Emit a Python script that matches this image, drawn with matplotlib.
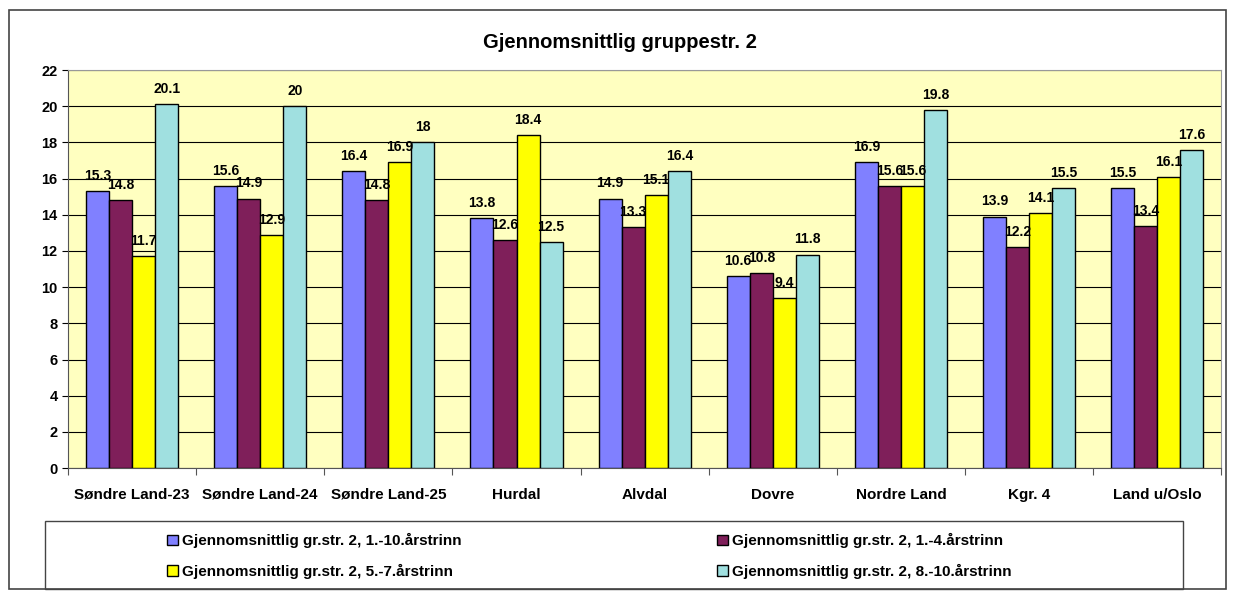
import numpy as np
import matplotlib
matplotlib.use("Agg")
import matplotlib.pyplot as plt
from matplotlib.patches import Rectangle

plt.rcParams['font.family'] = ['Liberation Sans Narrow', 'Liberation Sans', 'DejaVu Sans']
plt.rcParams['font.weight'] = 'bold'

# Data
categories = ["Søndre Land-23", "Søndre Land-24", "Søndre Land-25", "Hurdal", "Alvdal",
              "Dovre", "Nordre Land", "Kgr. 4", "Land u/Oslo"]
series_names = ["Gjennomsnittlig gr.str. 2, 1.-10.årstrinn",
                "Gjennomsnittlig gr.str. 2, 1.-4.årstrinn",
                "Gjennomsnittlig gr.str. 2, 5.-7.årstrinn",
                "Gjennomsnittlig gr.str. 2, 8.-10.årstrinn"]
s_1_10 = [15.3, 15.6, 16.4, 13.8, 14.9, 10.6, 16.9, 13.9, 15.5]
s_1_4 = [14.8, 14.9, 14.8, 12.6, 13.3, 10.8, 15.6, 12.2, 13.4]
s_5_7 = [11.7, 12.9, 16.9, 18.4, 15.1, 9.4, 15.6, 14.1, 16.1]
s_8_10 = [20.1, 20, 18, 12.5, 16.4, 11.8, 19.8, 15.5, 17.6]
colors = ["#8080FF", "#7F1F5A", "#FFFF00", "#A0E0E0"]

fig = plt.figure(figsize=(12.35, 5.94), dpi=100)
fig.patches.append(Rectangle((0.007, 0.008), 0.986, 0.975, transform=fig.transFigure,
                             fill=False, edgecolor="#444444", lw=1.2))

ax = fig.add_axes([0.055, 0.212, 0.934, 0.670])
ax.set_facecolor("#FFFFC0")

x = np.arange(len(categories))
w = 0.18
all_series = [s_1_10, s_1_4, s_5_7, s_8_10]
for i, vals in enumerate(all_series):
    pos = x + (i - 1.5) * w
    ax.bar(pos, vals, width=w, color=colors[i], edgecolor="black", lw=1.0,
           label=series_names[i], zorder=3)
    for px, v in zip(pos, vals):
        ax.text(px, v + 0.45, f"{v:g}", ha="center", va="bottom", fontsize=10,
                fontweight="bold", zorder=4)

ax.set_xlim(-0.5, len(categories) - 0.5)
ax.set_ylim(0, 22)
ax.set_yticks(np.arange(0, 23, 2))
ax.yaxis.grid(True, color="black", lw=0.8, zorder=0)
ax.set_xticks(np.arange(len(categories) + 1) - 0.5, minor=False)
ax.set_xticklabels([])
ax.set_xticks(x, minor=True)
ax.set_xticklabels(categories, minor=True, fontsize=11, fontweight="bold")
ax.tick_params(axis="x", which="minor", length=0, pad=14)
ax.tick_params(axis="x", which="major", length=5, color="#555555")
ax.tick_params(axis="y", labelsize=10.5, length=4)
for t in ax.get_yticklabels():
    t.set_fontweight("bold")
for side in ["top", "right"]:
    ax.spines[side].set_color("#999999")
for side in ["left", "bottom"]:
    ax.spines[side].set_color("#555555")

fig.text(0.502, 0.928, "Gjennomsnittlig gruppestr. 2", ha="center", va="center",
         fontsize=14.5, fontweight="bold")

# legend box
fig.patches.append(Rectangle((0.0364, 0.0084), 0.9215, 0.1145, transform=fig.transFigure,
                             fill=False, edgecolor="#444444", lw=1.0))
handles, labels = ax.get_legend_handles_labels()
order = [0, 2, 1, 3]
leg = fig.legend([handles[k] for k in order], [labels[k] for k in order], ncol=2,
                 loc="center left", bbox_to_anchor=(167 / 1235, 0.064),
                 fontsize=11, frameon=False, borderpad=0,
                 handlelength=0.7, handleheight=0.7, handletextpad=0.3,
                 borderaxespad=0, columnspacing=16.7, labelspacing=1.0)
for t in leg.get_texts():
    t.set_fontweight("bold")

fig.savefig("out.png", dpi=100)
